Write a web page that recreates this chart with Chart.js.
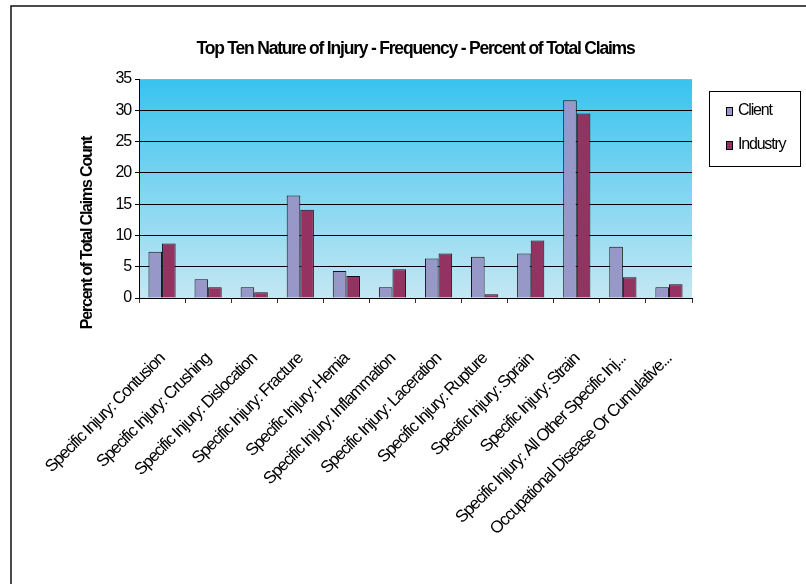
<!DOCTYPE html>
<html>
<head>
<meta charset="utf-8">
<script src="https://cdn.jsdelivr.net/npm/chart.js@4"></script>
<style>
  html, body { margin: 0; padding: 0; background: #fff; }
  canvas { display: block; }
</style>
</head>
<body>
<canvas id="injuryChart" width="806" height="584"></canvas>
<script>
// Nature of injury categories and percent-of-claims values
const categories = [
    'Specific Injury: Contusion',
    'Specific Injury: Crushing',
    'Specific Injury: Dislocation',
    'Specific Injury: Fracture',
    'Specific Injury: Hernia',
    'Specific Injury: Inflammation',
    'Specific Injury: Laceration',
    'Specific Injury: Rupture',
    'Specific Injury: Sprain',
    'Specific Injury: Strain',
    'Specific Injury: All Other Specific Inj...',
    'Occupational Disease Or Cumulative...'
];
const clientValues = [7.4, 3.0, 1.7, 16.4, 4.3, 1.7, 6.3, 6.6, 7.1, 31.6, 8.2, 1.7];
const industryValues = [8.7, 1.7, 0.9, 14.1, 3.5, 4.6, 7.1, 0.6, 9.2, 29.5, 3.3, 2.2];
const seriesNames = ['Client', 'Industry'];
const yTicks = [0, 5, 10, 15, 20, 25, 30, 35];

const chartTitle = 'Top Ten Nature of Injury - Frequency - Percent of Total Claims';
const yTitle = 'Percent of Total Claims Count';

const FONT = '"Liberation Sans", Arial, sans-serif';
const TEXT_SPACING = '-1.2px';

// narrow text like the old office export
const tightText = {
    id: 'tightText',
    beforeUpdate(chart) { chart.ctx.letterSpacing = TEXT_SPACING; },
    beforeDraw(chart) { chart.ctx.letterSpacing = TEXT_SPACING; }
};

// page frame + gradient behind the plot
const plotBackground = {
    id: 'plotBackground',
    beforeDraw(chart) {
        const ctx = chart.ctx;
        const a = chart.chartArea;
        ctx.save();
        ctx.strokeStyle = '#111';
        ctx.lineWidth = 1.5;
        ctx.strokeRect(11, 6, 900, 900);
        const g = ctx.createLinearGradient(0, a.top, 0, a.bottom);
        g.addColorStop(0, '#38c3ef');
        g.addColorStop(1, '#c4e7f3');
        ctx.fillStyle = g;
        ctx.fillRect(a.left, a.top, a.right - a.left, a.bottom - a.top);
        ctx.restore();
    }
};

// rotated axis title and boxed legend
const extras = {
    id: 'extras',
    afterDraw(chart) {
        const ctx = chart.ctx;
        ctx.save();
        ctx.letterSpacing = TEXT_SPACING;
        ctx.fillStyle = '#000';
        ctx.font = 'bold 16px ' + FONT;
        ctx.textAlign = 'center';
        ctx.textBaseline = 'middle';
        ctx.translate(88, 233);
        ctx.rotate(-Math.PI / 2);
        ctx.fillText(yTitle, 0, 0);
        ctx.restore();

        ctx.save();
        ctx.letterSpacing = TEXT_SPACING;
        ctx.fillStyle = '#fff';
        ctx.fillRect(709, 91, 91, 75);
        ctx.strokeStyle = '#000';
        ctx.lineWidth = 1;
        ctx.strokeRect(709.5, 91.5, 91, 75);
        ctx.font = '16px ' + FONT;
        ctx.textAlign = 'left';
        ctx.textBaseline = 'middle';
        chart.data.datasets.forEach((ds, i) => {
            const y = 111 + i * 34;
            ctx.fillStyle = ds.backgroundColor;
            ctx.fillRect(726, y - 4, 6, 8);
            ctx.strokeStyle = '#000';
            ctx.strokeRect(726.5, y - 3.5, 6, 8);
            ctx.fillStyle = '#000';
            ctx.fillText(ds.label, 738, y);
        });
        ctx.restore();
    }
};

new Chart(document.getElementById('injuryChart').getContext('2d'), {
    type: 'bar',
    data: {
        labels: categories,
        datasets: [
            {
                label: seriesNames[0],
                data: clientValues,
                backgroundColor: '#9797c8',
                borderColor: '#111',
                borderWidth: 1,
                categoryPercentage: 0.59,
                barPercentage: 1.0
            },
            {
                label: seriesNames[1],
                data: industryValues,
                backgroundColor: '#943262',
                borderColor: '#111',
                borderWidth: 1,
                categoryPercentage: 0.59,
                barPercentage: 1.0
            }
        ]
    },
    options: {
        responsive: false,
        animation: false,
        devicePixelRatio: 1,
        layout: { padding: { left: 0, right: 114, top: 0, bottom: 0 } },
        plugins: {
            legend: { display: false },
            tooltip: { enabled: false },
            title: {
                display: true,
                text: chartTitle,
                color: '#000',
                fullSize: false,
                font: { family: FONT, size: 17.5, weight: 'bold' },
                padding: { top: 39, bottom: 19 }
            }
        },
        scales: {
            x: {
                grid: {
                    offset: true,
                    drawOnChartArea: true,
                    color: ctx => ctx.index === categories.length ? '#999' : 'rgba(0,0,0,0)',
                    tickColor: '#333',
                    tickLength: 5
                },
                border: { color: '#000', width: 1 },
                ticks: {
                    autoSkip: false,
                    minRotation: 45,
                    maxRotation: 45,
                    padding: 46,
                    color: '#000',
                    font: { family: FONT, size: 17 }
                },
                afterFit(scale) {
                    scale.height = 286;
                    // rotated labels may hang past the axis; keep the plot edges fixed
                    scale.paddingLeft = 0;
                    scale.paddingRight = 0;
                }
            },
            y: {
                min: 0,
                max: 35,
                afterBuildTicks(scale) { scale.ticks = yTicks.map(v => ({ value: v })); },
                grid: {
                    color: ctx => ctx.tick && ctx.tick.value === 35 ? '#aaa' : '#000',
                    tickColor: '#000',
                    tickLength: 4
                },
                border: { color: '#000', width: 1 },
                ticks: {
                    padding: 4,
                    color: '#000',
                    font: { family: FONT, size: 16 }
                },
                afterFit(scale) {
                    scale.width = 139;
                    scale.paddingTop = 0;
                    scale.paddingBottom = 0;
                }
            }
        }
    },
    plugins: [tightText, plotBackground, extras]
});
</script>
</body>
</html>
